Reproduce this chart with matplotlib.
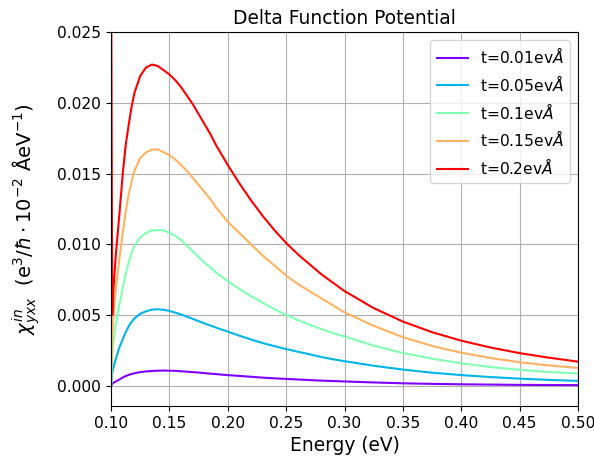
import numpy as np
import matplotlib.pyplot as plt

plt.rcParams['font.size'] = 11.2

energy = [0.100, 0.101, 0.102, 0.104, 0.107, 0.110, 0.1125, 0.115, 0.1175, 0.120,
          0.125, 0.130, 0.135, 0.140, 0.145, 0.150, 0.155, 0.160, 0.165, 0.170,
          0.175, 0.180, 0.185, 0.190, 0.195, 0.200, 0.210, 0.220, 0.230, 0.240,
          0.250, 0.260, 0.270, 0.280, 0.290, 0.300, 0.325, 0.350, 0.375, 0.400,
          0.425, 0.450, 0.475, 0.500]

# --- chi values for each hopping t ---
chi_001 = [0.0, 0.00015, 0.00022, 0.00032, 0.00045, 0.00060, 0.00070, 0.00078, 0.00085, 0.00090,
           0.00098, 0.00103, 0.00106, 0.00108, 0.00109, 0.00108, 0.00107, 0.00104, 0.00101, 0.00098,
           0.00095, 0.00091, 0.00087, 0.00084, 0.00080, 0.00077, 0.00071, 0.00065, 0.00059, 0.00054,
           0.00050, 0.00046, 0.00042, 0.00038, 0.00035, 0.00032, 0.00025, 0.00019, 0.00015, 0.00012,
           0.00010, 0.00008, 0.00007, 0.00006]
chi_005 = [0.0, 0.0009, 0.0013, 0.0019, 0.0027, 0.0033, 0.0038, 0.0042, 0.00452, 0.00477,
           0.00510, 0.00528, 0.00539, 0.00542, 0.00538, 0.00530, 0.00518, 0.00505, 0.00490, 0.00474,
           0.00458, 0.00442, 0.00427, 0.00412, 0.00398, 0.00384, 0.00355, 0.00328, 0.00303, 0.00281,
           0.00261, 0.00242, 0.00224, 0.00205, 0.00189, 0.00175, 0.00143, 0.00116, 0.00094, 0.00077,
           0.00063, 0.00052, 0.00043, 0.00036]
chi_010 = [0.0, 0.0022, 0.0031, 0.0043, 0.0057, 0.0069, 0.0079, 0.0087, 0.0094, 0.0099,
           0.0105, 0.0108, 0.0110, 0.0110, 0.0110, 0.0108, 0.0106, 0.0103, 0.0099, 0.0095,
           0.0091, 0.0087, 0.0084, 0.0080, 0.0077, 0.0074, 0.00685, 0.00635, 0.00588, 0.00542,
           0.00502, 0.00466, 0.00433, 0.00403, 0.00375, 0.00350, 0.00285, 0.00233, 0.00193, 0.00160,
           0.00134, 0.00114, 0.00099, 0.00088]
chi_015 = [0.0, 0.0035, 0.0049, 0.0068, 0.0089, 0.0108, 0.0123, 0.0135, 0.0144, 0.0152,
           0.0161, 0.0165, 0.0167, 0.0167, 0.0165, 0.0163, 0.0160, 0.0156, 0.0152, 0.0147,
           0.0142, 0.0137, 0.0132, 0.0126, 0.0121, 0.0116, 0.0108, 0.0100, 0.0092, 0.0085,
           0.0078, 0.0072, 0.0067, 0.0062, 0.0057, 0.0052, 0.00425, 0.00345, 0.00283, 0.00235,
           0.00198, 0.00168, 0.00145, 0.00127]
chi_020 = [0.030, 0.0050, 0.0068, 0.0092, 0.0120, 0.0150, 0.0170, 0.0184, 0.0197, 0.0207,
           0.0219, 0.0225, 0.0227, 0.0226, 0.0223, 0.0220, 0.0216, 0.0211, 0.0205, 0.0199,
           0.0192, 0.0185, 0.0178, 0.0170, 0.0163, 0.0156, 0.0143, 0.0131, 0.0120, 0.0110,
           0.0101, 0.0093, 0.0086, 0.0079, 0.0073, 0.0067, 0.0055, 0.00455, 0.0038, 0.0032,
           0.00272, 0.00232, 0.0020, 0.00172]

labels = ['t=0.01ev$\\AA$', 't=0.05ev$\\AA$', 't=0.1ev$\\AA$', 't=0.15ev$\\AA$', 't=0.2ev$\\AA$']
series = [chi_001, chi_005, chi_010, chi_015, chi_020]

fig = plt.figure(figsize=(5.94, 4.57), dpi=100)
ax = fig.add_axes([0.187, 0.112, 0.786, 0.818])

colors = plt.cm.rainbow(np.linspace(0, 1, len(series)))
for vals, lab, c in zip(series, labels, colors):
    ax.plot(energy, vals, color=c, label=lab)

ax.set_xlim(0.1, 0.5)
ax.set_ylim(-0.0014, 0.025)
ax.grid(True)
ax.set_title("Delta Function Potential")
ax.set_xlabel("Energy (eV)", fontsize=13.4)
ax.set_ylabel(r'$\chi^{in}_{yxx}$  (e$^3$/$\hbar\cdot10^{-2}$ ÅeV$^{-1}$)', fontsize=14, labelpad=11)
ax.legend(loc='upper right')

fig.savefig("out.png", dpi=100)
